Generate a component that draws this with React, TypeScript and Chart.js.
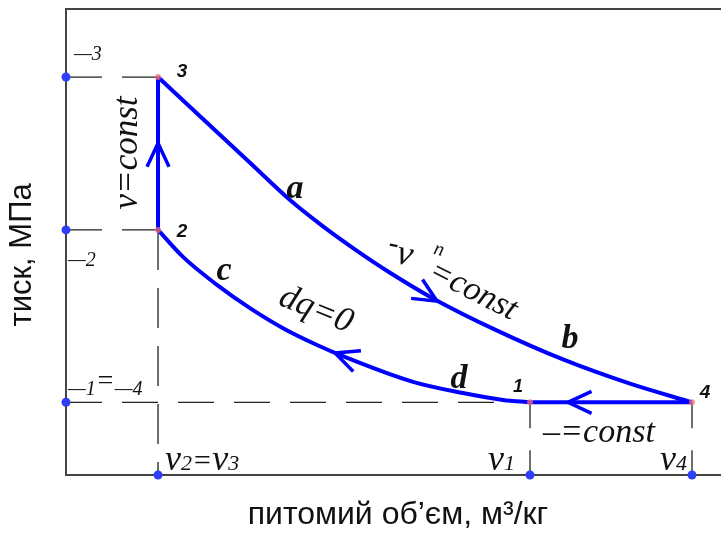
import React, { useEffect, useRef } from 'react';
import { Chart, registerables } from 'chart.js';

Chart.register(...registerables);

// ---- data (arbitrary units: v 0..100, p 0..10) ----
const X_MAX = 100;
const Y_MAX = 10;
const v2 = 14.05;
const v1 = 70.84;
const v4 = 95.57;
const p3 = 8.54;
const p2 = 5.26;
const p1 = 1.56;

// expansion 3 -> 4 (a, b)
const curveABx = [14.05, 20.46, 28.09, 34.2, 39.24, 44.43, 49.47, 56.03, 65.5, 75.88, 86.11, 95.57];
const curveABy = [8.54, 7.7, 6.7, 5.9, 5.335, 4.81, 4.34, 3.79, 3.12, 2.48, 1.96, 1.56];
// compression 1 -> 2 (c, d)
const curveCDx = [14.05, 17.86, 23.05, 28.09, 33.13, 38.32, 42.29, 52.98, 60.61, 66.72, 70.84];
const curveCDy = [5.26, 4.68, 4.08, 3.58, 3.15, 2.79, 2.55, 2.0, 1.76, 1.61, 1.56];

// arrows: tip and an upstream point (direction of travel tail -> tip)
const arrowTipX = [14.05, 56.64, 41.07, 76.64];
const arrowTipY = [7.12, 3.73, 2.62, 1.56];
const arrowTailX = [14.05, 49.47, 47.18, 90.0];
const arrowTailY = [5.26, 4.34, 2.3, 1.56];

const yTitle = 'тиск, МПа';
const xTitle = 'питомий об’єм, м³/кг';

const BLUE = '#0000ff';
const DOT_BLUE = '#2f3ff5';
const DOT_RED = 'rgba(245,110,110,0.75)';
const INK = '#111';

const serifI = (s: number) => `italic ${s}px "Liberation Serif", "Times New Roman", serif`;
const serifBI = (s: number) => `italic bold ${s}px "Liberation Serif", "Times New Roman", serif`;
const sansBI = (s: number) => `italic bold ${s}px "Liberation Sans", Arial, sans-serif`;

type Run = { t: string; font: string; dy?: number };
type Label = { x: number; y: number; runs: Run[]; rot?: number; align: 'left' | 'center'; base: CanvasTextBaseline };

const labels: Label[] = [
  { x: 17.71, y: 8.54, runs: [{ t: '3', font: sansBI(19) }], align: 'center', base: 'alphabetic' },
  { x: 17.71, y: 5.107, runs: [{ t: '2', font: sansBI(19) }], align: 'center', base: 'alphabetic' },
  { x: 69.0, y: 1.781, runs: [{ t: '1', font: sansBI(18) }], align: 'center', base: 'alphabetic' },
  { x: 97.56, y: 1.652, runs: [{ t: '4', font: sansBI(19) }], align: 'center', base: 'alphabetic' },
  { x: 34.96, y: 5.94, runs: [{ t: 'a', font: serifBI(34) }], align: 'center', base: 'alphabetic' },
  { x: 76.95, y: 2.725, runs: [{ t: 'b', font: serifBI(34) }], align: 'center', base: 'alphabetic' },
  { x: 24.12, y: 4.185, runs: [{ t: 'c', font: serifBI(34) }], align: 'center', base: 'alphabetic' },
  { x: 60.0, y: 1.867, runs: [{ t: 'd', font: serifBI(34) }], align: 'center', base: 'alphabetic' },
  { x: 9.47, y: 6.91, rot: -90, runs: [{ t: 'v=const', font: serifI(35) }], align: 'center', base: 'middle' },
  { x: 38.17, y: 3.54, rot: 22, runs: [{ t: 'dq=0', font: serifI(35) }], align: 'center', base: 'middle' },
  { x: 50.99, y: 4.74, rot: 12, runs: [{ t: '-', font: serifI(30), dy: -8 }, { t: 'v', font: serifI(36) }], align: 'center', base: 'middle' },
  { x: 56.95, y: 4.83, rot: 15, runs: [{ t: 'n', font: serifI(20) }], align: 'center', base: 'middle' },
  { x: 62.14, y: 3.95, rot: 27, runs: [{ t: '=const', font: serifI(34) }], align: 'center', base: 'middle' },
  { x: 81.37, y: 0.9, runs: [{ t: '–=const', font: serifI(34) }], align: 'center', base: 'middle' },
  {
    x: 15.11, y: 0.107, align: 'left', base: 'alphabetic',
    runs: [
      { t: 'v', font: serifI(36) }, { t: '2', font: serifI(22) }, { t: '=', font: serifI(30) },
      { t: 'v', font: serifI(36) }, { t: '3', font: serifI(22) },
    ],
  },
  { x: 64.43, y: 0.107, align: 'left', base: 'alphabetic', runs: [{ t: 'v', font: serifI(36) }, { t: '1', font: serifI(22) }] },
  { x: 90.69, y: 0.107, align: 'left', base: 'alphabetic', runs: [{ t: 'v', font: serifI(36) }, { t: '4', font: serifI(22) }] },
  { x: 1.22, y: 8.906, align: 'left', base: 'alphabetic', runs: [{ t: '—3', font: serifI(20) }] },
  { x: 0.31, y: 4.485, align: 'left', base: 'alphabetic', runs: [{ t: '—2', font: serifI(20) }] },
  {
    x: 0.31, y: 1.717, align: 'left', base: 'alphabetic',
    runs: [{ t: '—1', font: serifI(20) }, { t: '=', font: serifI(28), dy: -6 }, { t: '—4', font: serifI(20) }],
  },
];

const ARM = 26;
const HALF = (25 * Math.PI) / 180;

const overlayPlugin = {
  id: 'overlay',
  afterDatasetsDraw(chart: any) {
    const ctx: CanvasRenderingContext2D = chart.ctx;
    const xs = chart.scales.x;
    const ys = chart.scales.y;
    ctx.save();
    ctx.strokeStyle = BLUE;
    ctx.lineWidth = 3.5;
    ctx.lineCap = 'butt';
    ctx.lineJoin = 'miter';
    arrowTipX.forEach((tx, i) => {
      const px = xs.getPixelForValue(tx);
      const py = ys.getPixelForValue(arrowTipY[i]);
      const bx = xs.getPixelForValue(arrowTailX[i]);
      const by = ys.getPixelForValue(arrowTailY[i]);
      const ang = Math.atan2(by - py, bx - px);
      ctx.beginPath();
      ctx.moveTo(px + ARM * Math.cos(ang + HALF), py + ARM * Math.sin(ang + HALF));
      ctx.lineTo(px, py);
      ctx.lineTo(px + ARM * Math.cos(ang - HALF), py + ARM * Math.sin(ang - HALF));
      ctx.stroke();
    });
    ctx.restore();

    ctx.save();
    ctx.fillStyle = INK;
    labels.forEach((l) => {
      const px = xs.getPixelForValue(l.x);
      const py = ys.getPixelForValue(l.y);
      ctx.save();
      ctx.translate(px, py);
      if (l.rot) ctx.rotate((l.rot * Math.PI) / 180);
      ctx.textBaseline = l.base;
      ctx.textAlign = 'left';
      let total = 0;
      const widths = l.runs.map((r) => {
        ctx.font = r.font;
        const w = ctx.measureText(r.t).width;
        total += w;
        return w;
      });
      let cx = l.align === 'center' ? -total / 2 : 0;
      l.runs.forEach((r, i) => {
        ctx.font = r.font;
        ctx.fillText(r.t, cx, r.dy || 0);
        cx += widths[i];
      });
      ctx.restore();
    });
    ctx.restore();
  },
};

const pts = (xs: number[], ys: number[]) => xs.map((x, i) => ({ x, y: ys[i] }));

export default function App() {
  const ref = useRef<HTMLCanvasElement | null>(null);
  useEffect(() => {
    if (!ref.current) return;
    const dashH = [36, 20];
    const dashV = [26, 22];
    const guide = (data: { x: number; y: number }[], dash: number[]) => ({
      type: 'line' as const,
      data,
      borderColor: '#222',
      borderWidth: 1.3,
      borderDash: dash,
      pointRadius: 0,
      showLine: true,
      fill: false,
      clip: false as any,
    });
    const chart = new Chart(ref.current, {
      type: 'line',
      data: {
        datasets: [
          {
            label: 'axis points',
            data: [
              { x: 0, y: p3 }, { x: 0, y: p2 }, { x: 0, y: p1 },
              { x: v2, y: 0 }, { x: v1, y: 0 }, { x: v4, y: 0 },
            ],
            showLine: false,
            pointRadius: 4.5,
            pointBackgroundColor: DOT_BLUE,
            pointBorderWidth: 0,
            clip: false as any,
          },
          {
            label: 'state points',
            data: [{ x: v1, y: p1 }, { x: v2, y: p2 }, { x: v2, y: p3 }, { x: v4, y: p1 }],
            showLine: false,
            pointRadius: 3,
            pointBackgroundColor: DOT_RED,
            pointBorderWidth: 0,
            clip: false as any,
          },
          {
            label: '3-4',
            data: pts(curveABx, curveABy),
            borderColor: BLUE,
            borderWidth: 4,
            pointRadius: 0,
            cubicInterpolationMode: 'monotone',
            clip: false as any,
          },
          {
            label: '1-2',
            data: pts(curveCDx, curveCDy),
            borderColor: BLUE,
            borderWidth: 4,
            pointRadius: 0,
            cubicInterpolationMode: 'monotone',
            clip: false as any,
          },
          {
            label: '2-3',
            data: [{ x: v2, y: p2 }, { x: v2, y: p3 }],
            borderColor: BLUE,
            borderWidth: 4,
            pointRadius: 0,
            clip: false as any,
          },
          {
            label: '4-1',
            data: [{ x: v4, y: p1 }, { x: v1, y: p1 }],
            borderColor: BLUE,
            borderWidth: 4,
            pointRadius: 0,
            clip: false as any,
          },
          guide([{ x: 0, y: p3 }, { x: v2, y: p3 }], dashH),
          guide([{ x: 0, y: p2 }, { x: v2, y: p2 }], dashH),
          guide([{ x: 0, y: p1 }, { x: v1, y: p1 }], dashH),
          guide([{ x: v2, y: p2 }, { x: v2, y: 0 }], [40, 18]),
          guide([{ x: v1, y: p1 }, { x: v1, y: 0 }], dashV),
          guide([{ x: v4, y: p1 }, { x: v4, y: 0 }], dashV),
        ] as any,
      },
      options: {
        responsive: false,
        animation: false,
        layout: { padding: 0, autoPadding: false },
        plugins: { legend: { display: false }, tooltip: { enabled: false } },
        scales: {
          x: {
            type: 'linear',
            position: 'bottom',
            min: 0,
            max: X_MAX,
            grid: { display: false },
            ticks: { display: false },
            border: { display: true, color: '#444', width: 2 },
            title: {
              display: true,
              text: '\u00a0' + xTitle,
              color: INK,
              font: { family: '"Liberation Sans", Arial, sans-serif', size: 32 },
              padding: { top: 0, bottom: 1 },
            },
            afterFit: (s: any) => { s.height = 60; },
          },
          xTop: {
            type: 'linear',
            position: 'top',
            min: 0,
            max: X_MAX,
            grid: { display: false },
            ticks: { display: false },
            border: { display: true, color: '#444', width: 2 },
            afterFit: (s: any) => { s.height = 9; },
          },
          y: {
            type: 'linear',
            position: 'left',
            min: 0,
            max: Y_MAX,
            grid: { display: false },
            ticks: { display: false },
            border: { display: true, color: '#444', width: 2 },
            title: {
              display: true,
              text: yTitle + '\u00a0\u00a0\u00a0',
              color: INK,
              font: { family: '"Liberation Sans", Arial, sans-serif', size: 31 },
              padding: { top: 4, bottom: 0 },
            },
            afterFit: (s: any) => { s.width = 66; },
          },
        },
      } as any,
      plugins: [overlayPlugin],
    });
    return () => chart.destroy();
  }, []);

  return (
    <div style={{ position: 'fixed', left: 0, top: 0, width: 721, height: 535, background: '#fff' }}>
      <canvas ref={ref} width={721} height={535} style={{ display: 'block' }} />
    </div>
  );
}
